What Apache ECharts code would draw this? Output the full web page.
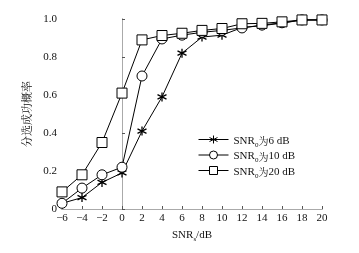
<!DOCTYPE html>
<html>
<head>
<meta charset="utf-8">
<script src="https://cdn.jsdelivr.net/npm/echarts@6/dist/echarts.min.js"></script>
<style>
html,body{margin:0;padding:0;background:#fff;}
#chart{width:359px;height:253px;}
</style>
</head>
<body>
<div id="chart"></div>
<script>
// 横轴 SNR_s (dB)
var snrList = [-6, -4, -2, 0, 2, 4, 6, 8, 10, 12, 14, 16, 18, 20];
// 三条曲线的分选成功概率
var p6dB  = [0.03, 0.06, 0.14, 0.19, 0.41, 0.59, 0.82, 0.905, 0.915, 0.955, 0.965, 0.978, 0.995, 0.995];
var p10dB = [0.03, 0.11, 0.18, 0.22, 0.70, 0.895, 0.915, 0.93, 0.94, 0.953, 0.968, 0.98, 0.995, 0.995];
var p20dB = [0.09, 0.18, 0.35, 0.61, 0.89, 0.913, 0.925, 0.94, 0.95, 0.975, 0.977, 0.985, 0.995, 0.995];
var seriesNames = ['6 dB', '10 dB', '20 dB'];
var yTicks = [0, 0.2, 0.4, 0.6, 0.8, 1.0];

var serif = '"Liberation Serif", serif';
var cjk = '"Noto Serif CJK SC", "Noto Sans CJK SC", sans-serif';
var starPath = 'path://M0,-1L0,1M-0.87,-0.5L0.87,0.5M-0.87,0.5L0.87,-0.5';

// 下标用的富文本样式
var richSub = {
    a: {fontFamily: serif, fontSize: 11, color: '#111', lineHeight: 14, verticalAlign: 'bottom'},
    c: {fontFamily: cjk, fontSize: 10, color: '#111', lineHeight: 14, verticalAlign: 'bottom'},
    sub: {fontFamily: serif, fontSize: 7, color: '#111', lineHeight: 14, verticalAlign: 'bottom', padding: [0, 0, -2, 0]}
};

function pairs(arr) {
    var out = [];
    for (var i = 0; i < snrList.length; i++) {
        out.push([snrList[i], arr[i]]);
    }
    return out;
}

function makeSeries(name, data, symbol, size, bw) {
    return {
        name: name,
        type: 'line',
        data: pairs(data),
        symbol: symbol,
        symbolSize: size,
        showAllSymbol: true,
        lineStyle: {color: '#000', width: 1},
        itemStyle: {color: '#fff', borderColor: '#000', borderWidth: bw},
        emphasis: {disabled: true},
        animation: false
    };
}

var chart = echarts.init(document.getElementById('chart'));
var option = {
    animation: false,
    grid: {left: 62, right: 37, top: 19, bottom: 44},
    legend: {
        orient: 'vertical',
        left: 193,
        top: 130,
        itemWidth: 30,
        itemHeight: 10,
        itemGap: 2,
        data: seriesNames,
        lineStyle: {width: 1},
        itemStyle: {borderWidth: 1},
        formatter: function (name) {
            return '{a|SNR}{sub|0}{c|为}{a|' + name + '}';
        },
        textStyle: {fontFamily: serif, fontSize: 11, color: '#111', rich: richSub}
    },
    xAxis: [{
        type: 'value',
        min: -6, max: 20, interval: 2,
        name: '{a|SNR}{sub|s}{a|/dB}',
        nameLocation: 'middle',
        nameGap: 18,
        nameTextStyle: {fontFamily: serif, fontSize: 11, color: '#111', rich: richSub},
        axisLine: {lineStyle: {color: '#777'}},
        axisTick: {inside: true, length: 3, lineStyle: {color: '#555'}},
        axisLabel: {fontFamily: serif, fontSize: 11, color: '#111', margin: 4,
            formatter: function (v) { return v < 0 ? '\u2212' + (-v) : String(v); }},
        splitLine: {show: false}
    }, {
        type: 'value', position: 'top',
        min: -6, max: 20,
        axisLine: {show: true, lineStyle: {color: '#aaa'}},
        axisTick: {show: false}, axisLabel: {show: false}, splitLine: {show: false}
    }],
    yAxis: [{
        type: 'value',
        min: 0, max: 1, interval: 0.2,
        name: '分选成功概率',
        nameLocation: 'middle',
        nameRotate: 90,
        nameGap: 27,
        nameTextStyle: {fontFamily: cjk, fontSize: 11, color: '#111'},
        axisLine: {show: true, lineStyle: {color: '#777'}},
        axisTick: {inside: true, length: 3, lineStyle: {color: '#555'}},
        axisLabel: {fontFamily: serif, fontSize: 11, color: '#111', margin: 5,
            formatter: function (v) {
                for (var i = 0; i < yTicks.length; i++) {
                    if (Math.abs(v - yTicks[i]) < 1e-6) return i === 0 ? '0' : yTicks[i].toFixed(1);
                }
                return '';
            }},
        splitLine: {show: false}
    }, {
        type: 'value', position: 'right',
        min: 0, max: 1,
        axisLine: {show: true, lineStyle: {color: '#aaa'}},
        axisTick: {show: false}, axisLabel: {show: false}, splitLine: {show: false}
    }],
    series: [
        makeSeries(seriesNames[0], p6dB, starPath, 9, 1.3),
        makeSeries(seriesNames[1], p10dB, 'circle', 10, 1),
        makeSeries(seriesNames[2], p20dB, 'rect', 10, 1)
    ]
};
chart.setOption(option);
</script>
</body>
</html>
